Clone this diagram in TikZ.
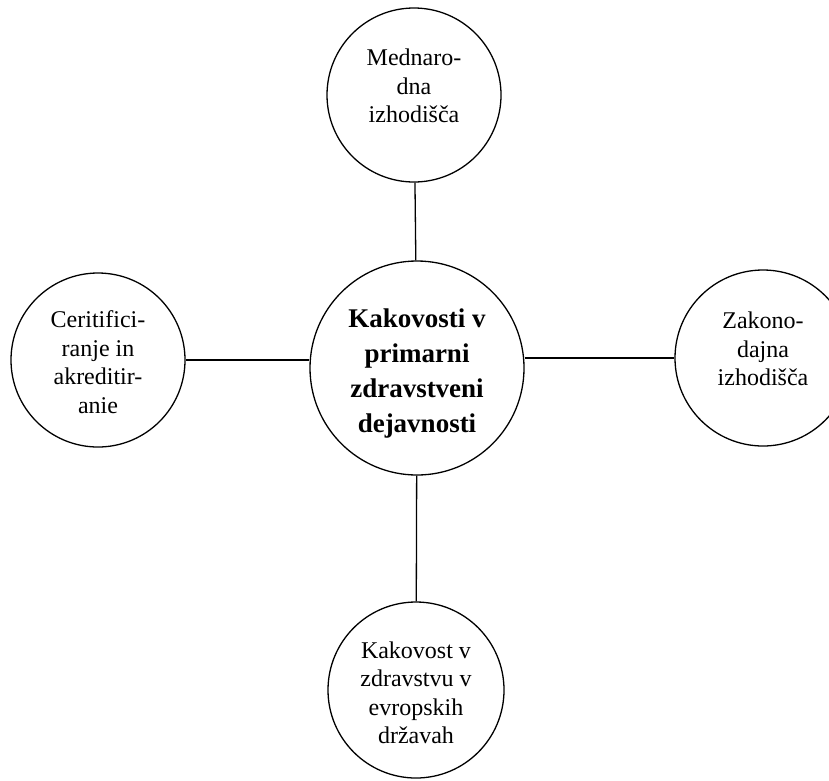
\documentclass[tikz,border=0pt]{standalone}
\usepackage{fontspec}
\setmainfont{Liberation Serif}
\begin{document}
\begin{tikzpicture}[x=1pt,y=-1pt,
  circ/.style={draw, circle, line width=1.3pt, inner sep=0pt},
  conn/.style={line width=1.3pt},
  lbl/.style={align=center, font=\fontsize{24}{28.5}\selectfont, inner sep=0pt},
  clbl/.style={align=center, font=\bfseries\fontsize{27}{35}\selectfont, inner sep=0pt}]
\useasboundingbox (0,0) rectangle (829,780);
% circles
\node[circ, minimum size=214pt] (C) at (417,368) {};
\node[circ, minimum size=174pt] (T) at (414,95) {};
\node[circ, minimum size=174pt] (L) at (98,360) {};
\node[circ, minimum size=176pt] (R) at (763,358) {};
\node[circ, minimum size=176pt] (B) at (416,690) {};
% texts
\node[clbl] (Ct) at (417,373) {Kakovosti v\\primarni\\zdravstveni\\dejavnosti};
\node[lbl] (Tt) at (414,86) {Mednaro-\\dna\\izhodišča};
\node[lbl] (Lt) at (98,362) {Ceritifici-\\ranje in\\akreditir-\\anie};
\node[lbl] (Rt) at (763,349) {Zakono-\\dajna\\izhodišča};
\node[lbl] (Bt) at (416,693) {Kakovost v\\zdravstvu v\\evropskih\\državah};
% connectors
\draw[conn] (T) -- (C);
\draw[conn] (C) -- (B);
\draw[conn] (L.east) -- (L.east -| C.west);
\draw[conn] (R.west -| C.east) -- (R.west);
\end{tikzpicture}
\end{document}
